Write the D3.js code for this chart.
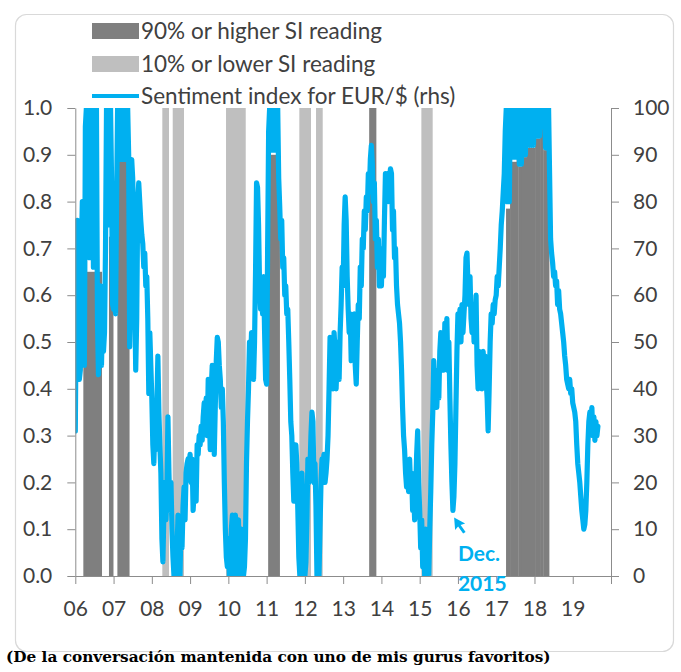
<!DOCTYPE html>
<html><head><meta charset="utf-8">
<script src="https://cdn.jsdelivr.net/npm/d3@7/dist/d3.min.js"></script>
<style>
html,body{margin:0;padding:0;background:#fff;}
svg{display:block;}
</style></head>
<body>
<svg id="chart" width="681" height="672"></svg>
<script>
// ---------------- data ----------------
const xTickYears  = [2006,2007,2008,2009,2010,2011,2012,2013,2014,2015,2016,2017,2018,2019];
const xTickLabels = ["06","07","08","09","10","11","12","13","14","15","16","17","18","19"];
const leftTicks   = [0,0.1,0.2,0.3,0.4,0.5,0.6,0.7,0.8,0.9,1.0];
const rightTicks  = [0,10,20,30,40,50,60,70,80,90,100];
const legendLabels = ["90% or higher SI reading","10% or lower SI reading","Sentiment index for EUR/$ (rhs)"];
const annotationLines = ["Dec.","2015"];
const caption = "(De la conversación mantenida con uno de mis gurus favoritos)";

// 90% or higher SI reading: [start, end, height (lhs)]
const highBands = [
  [2006.21,2006.30,0.80],[2006.30,2006.69,0.65],
  [2006.88,2006.99,0.725],
  [2007.10,2007.41,0.885],
  [2011.04,2011.34,0.90],
  [2013.68,2013.86,1.00],
  [2017.257,2017.362,0.785],[2017.362,2017.536,0.885],[2017.536,2017.580,0.955],
  [2017.580,2017.667,0.875],[2017.667,2017.798,0.895],[2017.798,2018.016,0.915],
  [2018.016,2018.146,0.935],[2018.146,2018.233,0.955],[2018.233,2018.382,0.91]
];
// 10% or lower SI reading: [start, end]
const lowBands = [
  [2008.274,2008.449],[2008.546,2008.841],[2009.939,2010.454],
  [2011.855,2012.160],[2012.291,2012.466],[2015.044,2015.340]
];

// Sentiment index for EUR/$ (rhs), sampled evenly within each year
const samplesPerYear = 38;
const si2006 = [31,60,76,60,42,44,70,80,50,45,96,100,82,100,68,100,70,100,66,100,72,100,55,43,50,62,45,55,48,52,70,100,80,100,75,100,85,58];
const si2007 = [57,60,56,80,100,89,100,89,100,89,100,89,100,89,100,90,49,62,89,85,75,60,44,55,80,84,80,76,73,71,66,69,62,64,55,39,52,45];
const si2008 = [38,28,24,32,27,36,47,35,28,22,8,3,14,20,12,18,34,22,14,20,10,4,0,8,0,5,13,4,0,12,6,15,19,12,22,24,25,24];
const si2009 = [26,20,25,14,18,20,16,28,26,30,28,32,29,34,37,33,38,30,42,36,27,40,45,38,26,36,46,51,50,45,42,36,40,33,20,10,4,2];
const si2010 = [8,0,3,10,13,5,0,13,6,0,12,3,0,10,5,0,2,8,24,33,40,50,45,52,48,42,50,65,84,83,75,62,57,62,56,64,52,42];
const si2011 = [41,70,95,100,91,100,91,100,91,100,91,100,85,79,72,76,66,68,60,62,56,57,50,42,33,30,22,16,18,28,24,14,4,0,12,22,16,4];
const si2012 = [0,3,12,25,20,22,30,35,33,20,24,15,0,5,0,10,20,25,24,26,20,22,25,30,40,51,45,50,40,52,48,40,46,50,42,52,58,66];
const si2013 = [62,75,81,76,64,57,52,56,46,54,50,56,45,41,50,58,55,66,62,72,70,78,74,81,78,86,82,89,92,88,80,84,72,76,66,72,62,66];
const si2014 = [62,70,64,76,86,82,86,80,85,87,86,74,78,68,70,62,58,56,54,50,44,36,30,27,22,19,23,18,25,19,22,14,18,12,18,26,31,20];
const si2015 = [14,6,12,2,8,0,10,0,4,0,10,18,28,35,46,40,44,36,42,38,48,52,46,51,44,54,50,55,44,50,38,28,20,14,17,24,36,48];
const si2016 = [56,52,57,50,58,52,56,60,68,69,62,58,64,55,52,58,50,52,60,45,40,48,42,46,40,48,44,47,42,38,31,40,50,56,54,58,56,59];
const si2017 = [60,64,62,66,70,75,78,82,86,95,100,80,100,80,100,89.5,100,89.5,100,89.5,100,96,100,88,100,88,100,90,100,90,100,92,100,92,100,92,100,92];
const si2018 = [100,94,100,94,100,94,100,96,100,96,100,91.5,100,91.5,100,86,72,69,67,64,65,62,63,58,61,57,56,54,52,50,47,45,42,41,40,42,39,40];
const si2019 = [37,36,35,33,28,24,22,20,17,14,12,10,11,14,20,28,33,35,32,36,30,34,29,33,30,32];

const yearly = [[2006,si2006],[2007,si2007],[2008,si2008],[2009,si2009],[2010,si2010],[2011,si2011],[2012,si2012],
                [2013,si2013],[2014,si2014],[2015,si2015],[2016,si2016],[2017,si2017],[2018,si2018],[2019,si2019]];
const series = [];
yearly.forEach(([yr, vals]) => vals.forEach((v,i) => series.push({t: yr + i/samplesPerYear, v})));

// ---------------- layout ----------------
const C = { dark:"#7f7f7f", light:"#bfbfbf", blue:"#00b0f0", axis:"#8c8c8c", text:"#404040" };
const FONT = "Lato, 'Open Sans', sans-serif";
const L = 75.3, R = 611, T = 108, B = 576;

const svg = d3.select("#chart");
svg.append("rect").attr("x",15.5).attr("y",14.5).attr("width",658).attr("height",637)
   .attr("rx",11).attr("fill","#fff").attr("stroke","#d9d9d9").attr("stroke-width",1.2);

const x  = d3.scaleLinear().domain([2006,2020]).range([L,R]);
const yL = d3.scaleLinear().domain([0,1]).range([B,T]);
const yR = d3.scaleLinear().domain([0,100]).range([B,T]);

svg.append("defs").append("clipPath").attr("id","plot")
   .append("rect").attr("x",L).attr("y",T).attr("width",R-L).attr("height",B-T);

const plot = svg.append("g").attr("clip-path","url(#plot)");
plot.selectAll("rect.low").data(lowBands).join("rect").attr("class","low")
  .attr("x",d=>x(d[0])).attr("width",d=>x(d[1])-x(d[0]))
  .attr("y",yL(1)).attr("height",yL(0)-yL(1)).attr("fill",C.light);
plot.selectAll("rect.high").data(highBands).join("rect").attr("class","high")
  .attr("x",d=>x(d[0])).attr("width",d=>x(d[1])-x(d[0])+0.3)
  .attr("y",d=>yL(d[2])).attr("height",d=>yL(0)-yL(d[2])).attr("fill",C.dark);
plot.append("path").datum(series)
  .attr("d", d3.line().x(d=>x(d.t)).y(d=>yR(d.v)))
  .attr("fill","none").attr("stroke",C.blue).attr("stroke-width",5.2)
  .attr("stroke-linejoin","round").attr("stroke-linecap","round");

// axes
function styleAxis(g){
  g.selectAll("path.domain").attr("stroke",C.axis);
  g.selectAll(".tick line").attr("stroke",C.axis);
  g.selectAll("text").attr("fill",C.text).style("font-family",FONT).style("font-size","21px");
}
svg.append("g").attr("transform",`translate(${L},0)`)
  .call(d3.axisLeft(yL).tickValues(leftTicks).tickFormat(d3.format(".1f")).tickSize(8).tickSizeOuter(0).tickPadding(15))
  .call(styleAxis);
svg.append("g").attr("transform",`translate(${R},0)`)
  .call(d3.axisRight(yR).tickValues(rightTicks).tickFormat(d3.format("d")).tickSize(8).tickSizeOuter(0).tickPadding(14))
  .call(styleAxis);
svg.append("g").attr("transform",`translate(0,${B})`)
  .call(d3.axisBottom(x).tickValues(xTickYears.concat([2020])).tickFormat(d=>{const i=xTickYears.indexOf(d);return i<0?"":xTickLabels[i];})
        .tickSize(8).tickSizeOuter(0).tickPadding(17))
  .call(styleAxis);

// annotation
const ann = svg.append("g");
const ax = x(2015.9), ay = yR(12.5);
ann.append("path")
  .attr("d",`M${ax},${ay} l11,6 l-4.5,1.5 l5,7 l-2.5,1.5 l-5,-7 l-3,3.5 z`)
  .attr("fill",C.blue);
ann.selectAll("text").data(annotationLines).join("text")
  .attr("x",x(2016)).attr("y",(d,i)=>yR(0) - 15 + i*30)
  .attr("fill",C.blue).style("font-family",FONT).style("font-size","21px").style("font-weight","bold")
  .text(d=>d);

// legend
const leg = svg.append("g");
const rowY = [31,64,96];
leg.append("rect").attr("x",92).attr("y",rowY[0]-8).attr("width",47).attr("height",16).attr("fill",C.dark);
leg.append("rect").attr("x",92).attr("y",rowY[1]-8).attr("width",47).attr("height",16).attr("fill",C.light);
leg.append("line").attr("x1",92).attr("x2",139).attr("y1",rowY[2]).attr("y2",rowY[2]).attr("stroke",C.blue).attr("stroke-width",4);
leg.selectAll("text").data(legendLabels).join("text")
  .attr("x",141).attr("y",(d,i)=>rowY[i]).attr("dy","0.35em")
  .attr("fill",C.text).style("font-family",FONT).style("font-size","22.5px").text(d=>d);

// caption
const cap = svg.append("text").attr("x",6).attr("y",662)
  .attr("fill","#000").style("font-family","'DejaVu Serif', serif").style("font-weight","bold")
  .style("font-size","15px").text(caption);
const w = cap.node().getComputedTextLength();
cap.style("font-size", (15*545/w).toFixed(2)+"px");
</script>
</body></html>
